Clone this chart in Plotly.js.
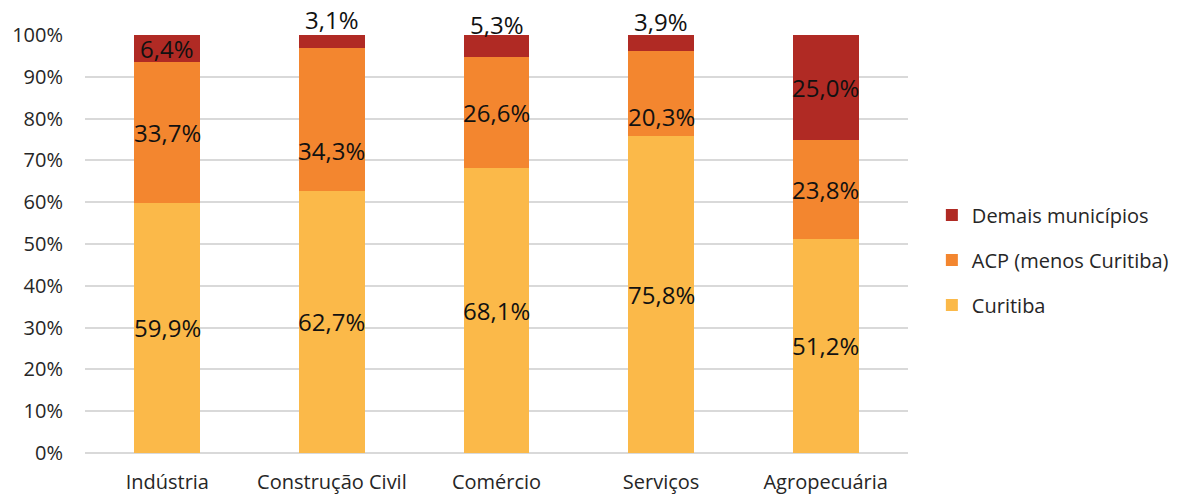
<!DOCTYPE html>
<html>
<head>
<meta charset="utf-8">
<script src="https://cdn.plot.ly/plotly-3.0.1.min.js"></script>
<style>html,body{margin:0;padding:0;background:#fff;}#chart{width:1184px;height:495px;}</style>
</head>
<body>
<div id="chart"></div>
<script>
const categories = ["Indústria", "Construção Civil", "Comércio", "Serviços", "Agropecuária"];
const curitiba = [59.9, 62.7, 68.1, 75.8, 51.2];
const acp = [33.7, 34.3, 26.6, 20.3, 23.8];
const demais = [6.4, 3.1, 5.3, 3.9, 25.0];
const seriesNames = ["Curitiba", "ACP (menos Curitiba)", "Demais municípios"];
const colors = ["#FBB949", "#F3862F", "#B02A24"];

const fmt = v => v.toFixed(1).replace(".", ",") + "%";
const font = "Open Sans, Liberation Sans, sans-serif";
const series = [curitiba, acp, demais];

const traces = series.map((vals, i) => ({
  type: "bar",
  name: seriesNames[i],
  legendgroup: "g" + i,
  legendrank: 3 - i,
  x: categories,
  y: vals,
  marker: {color: colors[i], line: {width: 0}},
  hoverinfo: "skip"
}));

// label placement tweaks (pixel shifts, positive = up) as in the original chart
const labelShift = {"1|1": -31, "1|3": -23};

const annotations = [];
categories.forEach((c, ci) => {
  let base = 0;
  series.forEach((vals, si) => {
    const v = vals[ci];
    const small = v < 6;
    annotations.push({
      x: c, xref: "x", yref: "y",
      y: base + v / 2,
      yanchor: "middle",
      yshift: small ? 22 : (labelShift[si + "|" + ci] || 0),
      text: fmt(v),
      showarrow: false,
      font: {family: font, size: 24, color: "#111"}
    });
    base += v;
  });
});

const layout = {
  barmode: "stack",
  bargap: 0.6,
  width: 1184,
  height: 495,
  margin: {l: 85, r: 276, t: 35, b: 42, autoexpand: false},
  paper_bgcolor: "#fff",
  plot_bgcolor: "#fff",
  font: {family: font, size: 20, color: "#262626"},
  annotations: annotations,
  xaxis: {
    showline: false,
    ticks: "",
    tickfont: {size: 20, color: "#262626"},
    ticklabelstandoff: 15
  },
  yaxis: {
    range: [0, 100],
    dtick: 10,
    ticksuffix: "%",
    showgrid: true,
    gridcolor: "#d9d9d9",
    gridwidth: 2,
    zeroline: true,
    zerolinecolor: "#d9d9d9",
    zerolinewidth: 2,
    ticks: "",
    tickfont: {size: 20, color: "#262626"},
    ticklabelstandoff: 21
  },
  legend: {
    x: 1.029, xanchor: "left",
    y: 0.462, yanchor: "middle",
    traceorder: "grouped",
    tracegroupgap: 16,
    itemwidth: 30,
    font: {size: 20, color: "#262626"}
  },
  showlegend: true
};

Plotly.newPlot("chart", traces, layout, {displayModeBar: false, staticPlot: true});
</script>
</body>
</html>
